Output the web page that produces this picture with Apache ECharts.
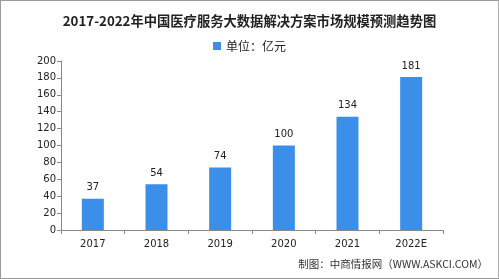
<!DOCTYPE html>
<html><head><meta charset="utf-8">
<script src="https://cdn.jsdelivr.net/npm/echarts@6/dist/echarts.min.js"></script>
<style>html,body{margin:0;padding:0;background:#fff}#c{width:499px;height:279px;box-sizing:border-box;border:1px solid #9a9a9a;border-right-color:#b0b0b0}</style>
</head><body><div id="c"></div>
<script>
const categories = ['2017','2018','2019','2020','2021','2022E'];
const values = [37,54,74,100,134,181];
const yTicks = {min:0,max:200,interval:20};
const titleText = '2017-2022年中国医疗服务大数据解决方案市场规模预测趋势图';
const seriesName = '单位：亿元';
const sourceText = '制图：中商情报网（WWW.ASKCI.COM）';

const chart = echarts.init(document.getElementById('c'), null, {renderer:'canvas'});
chart.setOption({
  animation:false,
  title:{text:titleText,left:'center',top:8,textStyle:{fontSize:13.3,fontWeight:'bold',color:'#222',fontFamily:'Noto Sans CJK SC'}},
  legend:{data:[seriesName],top:34,left:'center',itemWidth:8,itemHeight:8,icon:'rect',itemGap:4,
    textStyle:{fontSize:12,color:'#222',fontFamily:'Noto Sans CJK SC'}},
  graphic:[{type:'text',right:10,top:258,style:{text:sourceText,fontSize:10.5,fill:'#333',fontFamily:'Noto Sans CJK SC'}}],
  grid:{left:60,right:55,top:60,bottom:48},
  xAxis:{type:'category',data:categories,
    axisLine:{lineStyle:{color:'#888'}},
    axisTick:{show:true,alignWithLabel:false,length:4,lineStyle:{color:'#888'}},
    axisLabel:{fontSize:10,color:'#222',margin:9,fontFamily:'DejaVu Sans'}},
  yAxis:{type:'value',min:yTicks.min,max:yTicks.max,interval:yTicks.interval,
    axisLine:{show:true,lineStyle:{color:'#888'}},
    axisTick:{show:true,length:4,lineStyle:{color:'#888'}},
    splitLine:{show:false},
    axisLabel:{fontSize:10,color:'#222',margin:5,fontFamily:'DejaVu Sans'}},
  series:[{name:seriesName,type:'bar',data:values,barWidth:22,
    itemStyle:{color:'#3b8fe8'},
    label:{show:true,position:'top',distance:6,fontSize:10,color:'#222',fontFamily:'DejaVu Sans'}}]
});
</script></body></html>
